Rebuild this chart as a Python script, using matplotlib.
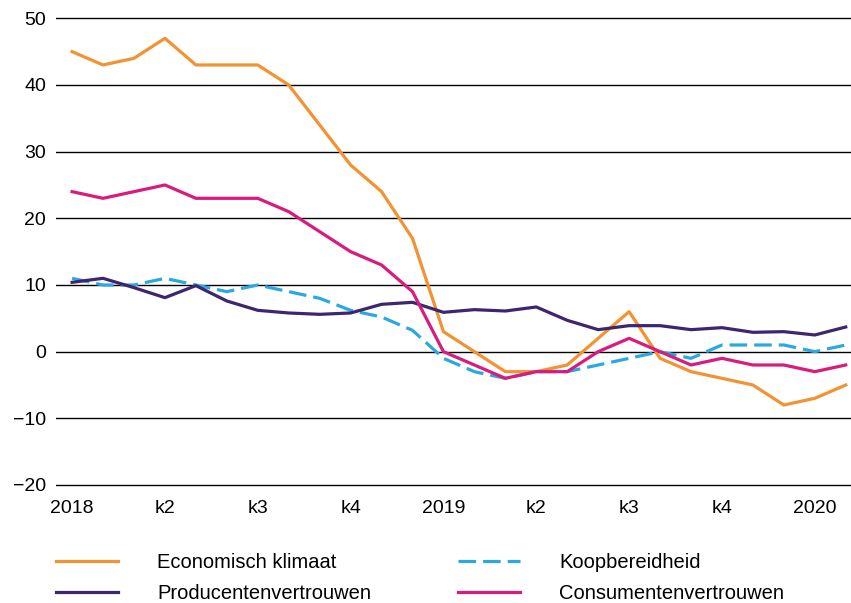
import numpy as np
import matplotlib
matplotlib.use('Agg')
import matplotlib.pyplot as plt

# maandcijfers jan 2018 t/m feb 2020
economisch_klimaat = [45, 43, 44, 47, 43, 43, 43, 40, 34, 28, 24, 17,
                      3, 0, -3, -3, -2, 2, 6, -1, -3, -4, -5, -8, -7, -5]
koopbereidheid = [11, 10, 10, 11, 10, 9, 10, 9, 8, 6.2, 5.2, 3.2,
                  -1, -3, -4, -3, -3, -2, -1, 0, -1, 1, 1, 1, 0, 1]
producentenvertrouwen = [10.4, 11, 9.6, 8.1, 9.9, 7.6, 6.2, 5.8, 5.6, 5.8, 7.1, 7.4,
                         5.9, 6.3, 6.1, 6.7, 4.7, 3.3, 3.9, 3.9, 3.3, 3.6, 2.9, 3.0, 2.5, 3.7]
consumentenvertrouwen = [24, 23, 24, 25, 23, 23, 23, 21, 18, 15, 13, 9,
                         0, -2, -4, -3, -3, 0, 2, 0, -2, -1, -2, -2, -3, -2]
tick_labels = ['2018', 'k2', 'k3', 'k4', '2019', 'k2', 'k3', 'k4', '2020']

ORANJE = '#F39232'
PAARS = '#3D2570'
BLAUW = '#29A9E0'
ROZE = '#D81B7C'

plt.rcParams['font.family'] = ['Liberation Sans', 'DejaVu Sans']

fig = plt.figure(figsize=(8.51, 6.03), dpi=100)
# a little margin so the grid lines at -20 and 50 are not clipped
ax = fig.add_axes([56 / 851, 1 - 487 / 603, (851 - 56) / 851, (487 - 16.3) / 603])

x = np.arange(len(economisch_klimaat))
lw = 2.3
l1, = ax.plot(x, economisch_klimaat, color=ORANJE, lw=lw, label='Economisch klimaat')
l3, = ax.plot(x, koopbereidheid, color=BLAUW, lw=lw, dashes=(5.5, 2.2), label='Koopbereidheid')
l2, = ax.plot(x, producentenvertrouwen, color=PAARS, lw=lw, label='Producentenvertrouwen')
l4, = ax.plot(x, consumentenvertrouwen, color=ROZE, lw=lw, label='Consumentenvertrouwen')

ax.set_ylim(-20.3, 50.3)
ax.set_xlim(-0.52, 25.17)
ax.set_yticks(range(-20, 51, 10))
ax.set_xticks(range(0, 25, 3))
ax.set_xticklabels(tick_labels)
ax.grid(axis='y', color='black', lw=1.0)
ax.set_axisbelow(True)
for s in ax.spines.values():
    s.set_visible(False)
ax.tick_params(axis='both', length=0, labelsize=14, colors='black')
ax.tick_params(axis='y', pad=7.2)
ax.tick_params(axis='x', pad=9.5)

leg_kw = dict(frameon=False, fontsize=14.5, handlelength=3.08, handletextpad=1.94,
              labelspacing=0.6, borderpad=0, borderaxespad=0, loc='center left')
fig.legend([l1, l2], [l1.get_label(), l2.get_label()],
           bbox_to_anchor=(56 / 851, 1 - 578 / 603), **leg_kw)
fig.legend([l3, l4], [l3.get_label(), l4.get_label()],
           bbox_to_anchor=(458 / 851, 1 - 578 / 603), **leg_kw)

fig.savefig('out.png', dpi=100)
